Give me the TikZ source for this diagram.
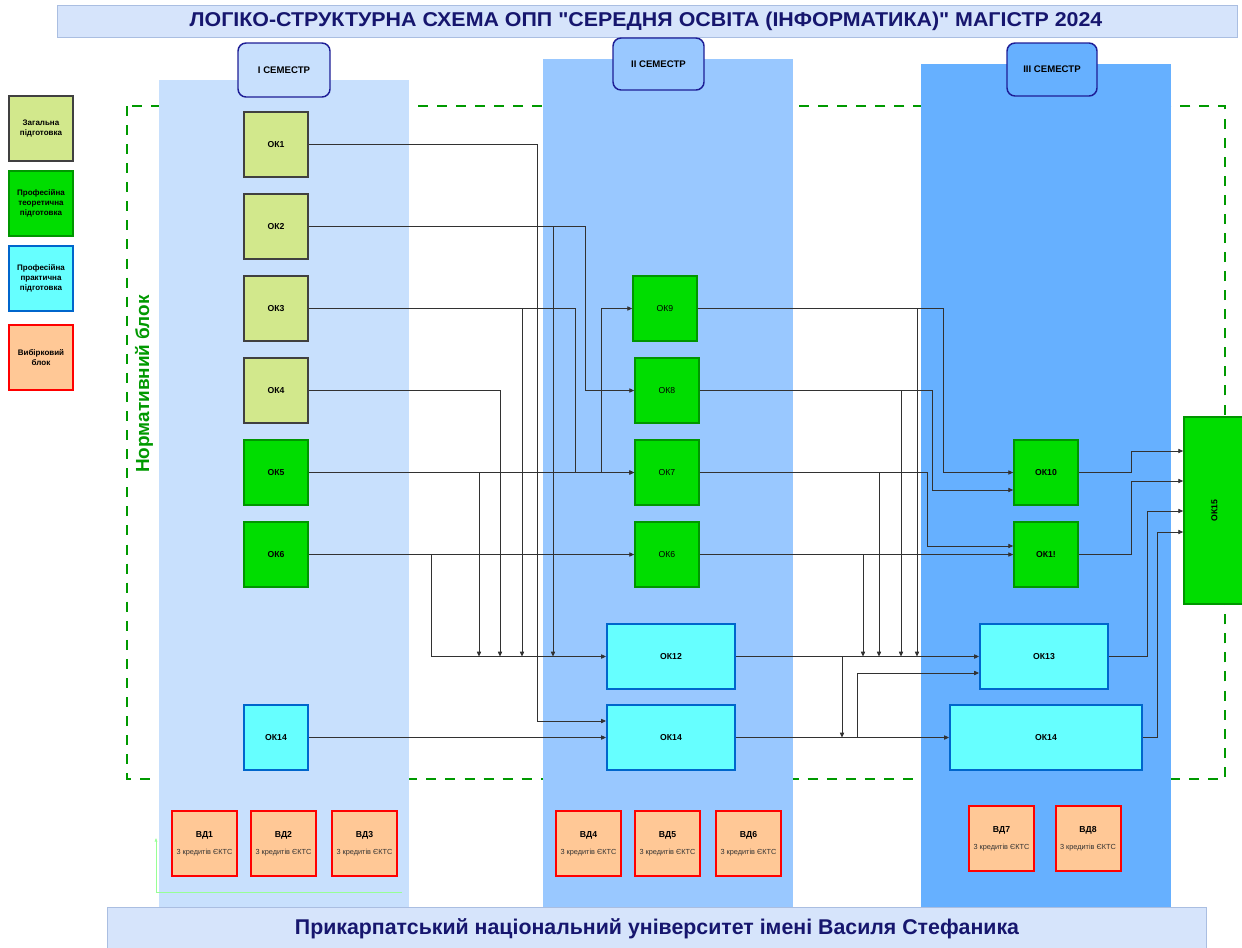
\documentclass[tikz,border=0pt]{standalone}
\usepackage{fontspec}
\setmainfont{Liberation Sans}[Ligatures=TeXOff]
\usetikzlibrary{arrows.meta}
\definecolor{colI}{RGB}{200,224,253}
\definecolor{colII}{RGB}{153,200,255}
\definecolor{colIII}{RGB}{102,176,255}
\definecolor{hdrdraw}{RGB}{30,30,150}
\definecolor{titlefill}{RGB}{214,228,251}
\definecolor{titledraw}{RGB}{170,190,225}
\definecolor{navy}{RGB}{22,22,110}
\definecolor{dashgreen}{RGB}{0,153,0}
\definecolor{genfill}{RGB}{210,232,140}
\definecolor{gendraw}{RGB}{64,64,64}
\definecolor{theofill}{RGB}{0,221,0}
\definecolor{theodraw}{RGB}{0,150,0}
\definecolor{pracfill}{RGB}{102,255,255}
\definecolor{pracdraw}{RGB}{0,102,204}
\definecolor{vibfill}{RGB}{255,200,150}
\definecolor{vibdraw}{RGB}{255,0,0}
\definecolor{linecol}{RGB}{50,50,50}
\definecolor{stray}{RGB}{150,255,150}
\begin{document}
\begin{tikzpicture}[x=0.75pt,y=-0.75pt,
  base/.style={draw, rectangle, inner sep=1pt, align=center, text=black,
    font=\bfseries\fontsize{6.5}{8}\selectfont},
  gen/.style={base, fill=genfill, draw=gendraw, line width=1.5pt, minimum width=48pt, minimum height=48.75pt},
  theo/.style={base, fill=theofill, draw=theodraw, line width=1.3pt, minimum width=48pt, minimum height=48.75pt},
  prac/.style={base, fill=pracfill, draw=pracdraw, line width=1.5pt, minimum height=48.75pt},
  vib/.style={base, fill=vibfill, draw=vibdraw, line width=1.5pt, minimum width=48.75pt, minimum height=48.75pt},
  leg/.style={base, minimum width=48pt, minimum height=48.75pt, font=\bfseries\fontsize{6}{7.6}\selectfont},
  semhdr/.style={draw=hdrdraw, line width=1.1pt, rounded corners=6pt, inner sep=1pt,
    font=\bfseries\fontsize{7.2}{8}\selectfont},
  conn/.style={draw=linecol, line width=0.55pt, -{Triangle[length=3.6pt,width=3.2pt]}},
  plain/.style={draw=linecol, line width=0.55pt}
]
\useasboundingbox (0,0) rectangle (1242,947);

% title
\node[draw=titledraw, fill=titlefill, line width=0.6pt, minimum width=885pt, minimum height=24pt,
  inner sep=0pt] (title) at (647,21) {};
\node[text=navy, font=\bfseries\fontsize{15}{17}\selectfont, inner sep=0pt] (titletext) at (646,21)
  {\scalebox{1.07}[1]{ЛОГІКО-СТРУКТУРНА СХЕМА ОПП "СЕРЕДНЯ ОСВІТА (ІНФОРМАТИКА)" МАГІСТР 2024}};

% normative block
\draw[dashgreen, line width=2.2pt, dash pattern=on 7.5pt off 6.8pt] (127,106) rectangle (1225,779);
\node[rotate=90, text=dashgreen, font=\bfseries\fontsize{14.2}{16}\selectfont] (normlabel) at (144,384) {Нормативний блок};

% semester columns
\fill[colI] (159,80) rectangle (409,907);
\fill[colII] (543,59) rectangle (793,907);
\fill[colIII] (921,64) rectangle (1171,907);

% semester headers
\node[semhdr, fill=colI, minimum width=69pt, minimum height=40.5pt] (s1) at (284,70) {I СЕМЕСТР};
\node[semhdr, fill=colII, minimum width=68.25pt, minimum height=39pt] (s2) at (658.5,64) {II СЕМЕСТР};
\node[semhdr, fill=colIII, minimum width=67.5pt, minimum height=39.75pt] (s3) at (1052,69.5) {III СЕМЕСТР};

% legend
\node[leg, fill=genfill, draw=gendraw, line width=1.5pt] (lg1) at (41,128.5) {Загальна\\підготовка};
\node[leg, fill=theofill, draw=theodraw, line width=1.3pt] (lg2) at (41,203.5) {Професійна\\теоретична\\підготовка};
\node[leg, fill=pracfill, draw=pracdraw, line width=1.5pt] (lg3) at (41,278.5) {Професійна\\практична\\підготовка};
\node[leg, fill=vibfill, draw=vibdraw, line width=1.5pt] (lg4) at (41,357.5) {Вибірковий\\блок};

% column I
\node[gen] (OK1) at (276,144.5) {ОК1};
\node[gen] (OK2) at (276,226.5) {ОК2};
\node[gen] (OK3) at (276,308.5) {ОК3};
\node[gen] (OK4) at (276,390.5) {ОК4};
\node[theo] (OK5) at (276,472.5) {ОК5};
\node[theo] (OK6) at (276,554.5) {ОК6};
\node[prac, minimum width=48pt] (OK14a) at (276,737.5) {ОК14};

% column II
\node[theo, font=\fontsize{6.5}{8}\selectfont] (OK9) at (665,308.5) {ОК9};
\node[theo, font=\fontsize{6.5}{8}\selectfont] (OK8) at (667,390.5) {ОК8};
\node[theo, font=\fontsize{6.5}{8}\selectfont] (OK7) at (667,472.5) {ОК7};
\node[theo, font=\fontsize{6.5}{8}\selectfont] (OK6b) at (667,554.5) {ОК6};
\node[prac, minimum width=96pt] (OK12) at (671,656.5) {ОК12};
\node[prac, minimum width=96pt] (OK14b) at (671,737.5) {ОК14};

% column III
\node[theo] (OK10) at (1046,472.5) {ОК10};
\node[theo] (OK11) at (1046,554.5) {ОК1!};
\node[prac, minimum width=96pt] (OK13) at (1044,656.5) {ОК13};
\node[prac, minimum width=144pt] (OK14c) at (1046,737.5) {ОК14};

% OK15
\node[theo, minimum width=45.75pt, minimum height=140.25pt] (OK15) at (1214.5,510.5) {\rotatebox{90}{ОК15}};

% junction points on trunks
\coordinate (j431) at (431,656.5);
\coordinate (j479) at (479,656.5);
\coordinate (j500) at (500,656.5);
\coordinate (j522) at (522,656.5);
\coordinate (j553) at (553,656.5);
\coordinate (j863) at (863,656.5);
\coordinate (j879) at (879,656.5);
\coordinate (j901) at (901,656.5);
\coordinate (j917) at (917,656.5);
\coordinate (j842) at (842,737.5);

% connectors I -> II
\draw[conn] (OK1.east) -| (537,721) -- ([yshift=12.375pt]OK14b.west);
\draw[conn] (OK2.east) -| (585,390.5) -- (OK8.west);
\draw[conn] (OK2.east) -| (j553);
\draw[conn] (OK3.east) -| (575,472.5) -- (OK7.west);
\draw[conn] (OK3.east) -| (j522);
\draw[conn] (OK4.east) -| (j500);
\draw[conn] (OK5.east) -- (OK7.west);
\draw[conn] (OK5.east) -- (601,472.5) |- (OK9.west);
\draw[conn] (OK5.east) -| (j479);
\draw[conn] (OK6.east) -- (OK6b.west);
\draw[conn] (OK6.east) -| (j431) -- (OK12.west);
\draw[conn] (OK14a.east) -- (OK14b.west);

% connectors II -> III
\draw[conn] (OK9.east) -| (943,472.5) -- (OK10.west);
\draw[conn] (OK9.east) -| (j917);
\draw[conn] (OK8.east) -| (932,490) -- ([yshift=-13.125pt]OK10.west);
\draw[conn] (OK8.east) -| (j901);
\draw[conn] (OK7.east) -| (927,546) -- ([yshift=6.375pt]OK11.west);
\draw[conn] (OK7.east) -| (j879);
\draw[conn] (OK6b.east) -- (OK11.west);
\draw[conn] (OK6b.east) -| (j863);
\draw[conn] (OK12.east) -- (OK13.west);
\draw[conn] (OK12.east) -| (j842);
\draw[conn] (OK14b.east) -- (OK14c.west);
\draw[conn] (OK14b.east) -- (857,737.5) |- ([yshift=-12.375pt]OK13.west);

% connectors III -> OK15
\draw[conn] (OK10.east) -| (1131,451) -- ([yshift=44.625pt]OK15.west);
\draw[conn] (OK11.east) -| (1131,481) -- ([yshift=22.125pt]OK15.west);
\draw[conn] (OK13.east) -| (1147,511) -- ([yshift=-0.375pt]OK15.west);
\draw[conn] (OK14c.east) -| (1157,532) -- ([yshift=-16.125pt]OK15.west);

% elective block
\foreach \n/\x/\y in {1/204.5/843.5, 2/283.5/843.5, 3/364.5/843.5, 4/588.5/843.5, 5/667.5/843.5, 6/748.5/843.5, 7/1001.5/838.5, 8/1088/838.5}{
  \node[vib] (VD\n) at (\x,\y) {ВД\n\\[5pt]{\mdseries\fontsize{5.5}{6.5}\selectfont\color{black!80}3 кредитів ЄКТС}};
}

% stray light-green connector
\coordinate (sc) at (402,892);
\draw[stray, line width=0.4pt, -{Triangle[length=2.5pt,width=2pt]}] (sc) -- (156,892) -- ([yshift=4pt]VD1.west -| 156,0);

% footer
\node[draw=titledraw, fill=titlefill, line width=0.6pt, minimum width=824.25pt, minimum height=33pt,
  inner sep=0pt, anchor=north west] (footer) at (107,907) {};
\node[text=navy, font=\bfseries\fontsize{16}{18}\selectfont] (foottext) at (657,929)
  {Прикарпатський національний університет імені Василя Стефаника};
\end{tikzpicture}
\end{document}
